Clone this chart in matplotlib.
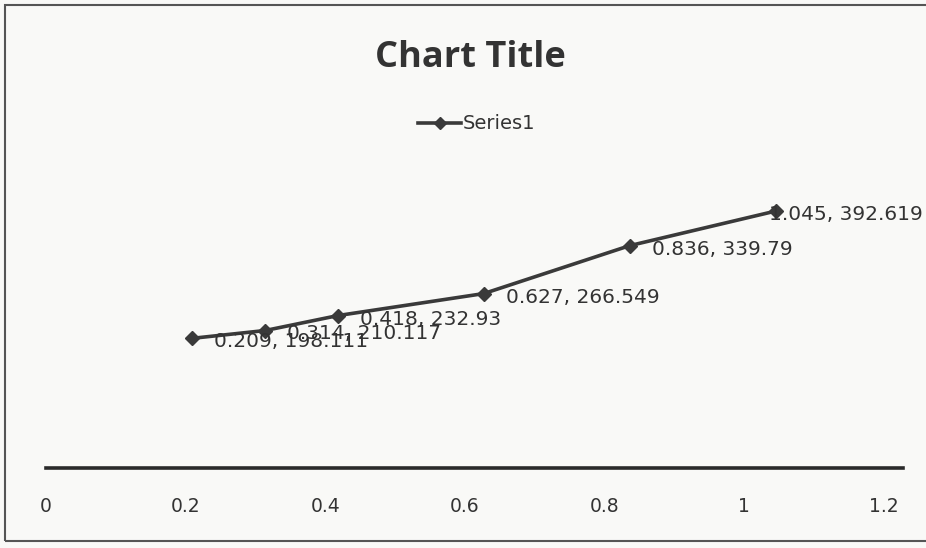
import matplotlib
matplotlib.use('Agg')
import matplotlib.pyplot as plt
from matplotlib.lines import Line2D
from matplotlib.patches import Rectangle

# data
x_vals = [0.209, 0.314, 0.418, 0.627, 0.836, 1.045]
y_vals = [198.111, 210.117, 232.93, 266.549, 339.79, 392.619]
x_ticks = [0, 0.2, 0.4, 0.6, 0.8, 1, 1.2]
x_tick_labels = ['0', '0.2', '0.4', '0.6', '0.8', '1', '1.2']
series_name = 'Series1'
title = 'Chart Title'

line_color = '#3a3a3a'
paper = '#f9f9f7'

fig = plt.figure(figsize=(9.26, 5.48), dpi=100, facecolor=paper)
ax = fig.add_axes([0.0497, 0.146, 0.925, 0.597])
ax.set_facecolor(paper)

ax.plot(x_vals, y_vals, color=line_color, linewidth=2.6, marker='D',
        markersize=7.5, markerfacecolor=line_color, markeredgecolor=line_color)

# data labels, Excel style "x, y" to the right of each point
for i, (x, y) in enumerate(zip(x_vals, y_vals)):
    dx = 16 if i < len(x_vals) - 1 else -5
    ax.annotate('%g, %g' % (x, y), (x, y), xytext=(dx, -2.5),
                textcoords='offset points', ha='left', va='center',
                fontsize=14.5, color='#333333', family='DejaVu Sans')

ax.set_xlim(0, 1.227)
ax.set_ylim(0, 500)
ax.set_xticks(x_ticks)
ax.set_xticklabels(x_tick_labels)
ax.set_yticks([])
ax.tick_params(axis='x', length=0, pad=21, labelsize=13.5, labelcolor='#333333')
for s in ['top', 'right', 'left']:
    ax.spines[s].set_visible(False)
ax.spines['bottom'].set_color('#2a2a2a')
ax.spines['bottom'].set_linewidth(2.6)

fig.text(0.508, 0.894, title, ha='center', va='center', fontsize=26,
         fontweight='bold', color='#333333', family='Open Sans')

handle = Line2D([], [], color=line_color, linewidth=2.6, marker='D',
                markersize=6)
fig.legend([handle], [series_name], loc='center', bbox_to_anchor=(0.515, 0.774),
           frameon=False, fontsize=14, handlelength=2.2, handletextpad=0.1,
           labelcolor='#333333')

# outer chart border
fig.patches.append(Rectangle((0.005, 0.012), 1.2, 0.978, transform=fig.transFigure,
                             fill=False, edgecolor='#555555', linewidth=1.5))

fig.savefig('out.png', dpi=100, facecolor=paper)
